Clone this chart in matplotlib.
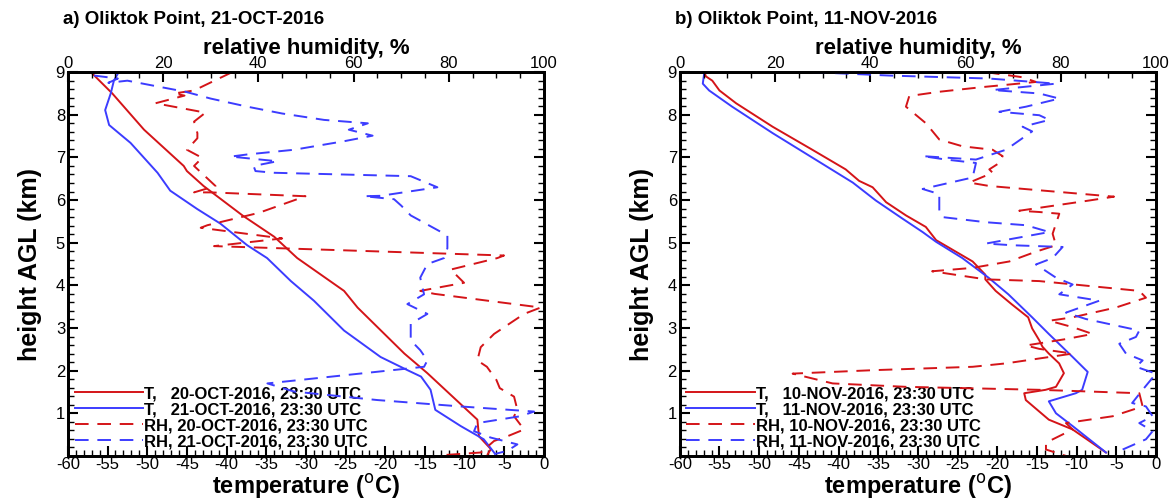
import matplotlib
matplotlib.use("Agg")
import matplotlib.pyplot as plt
from matplotlib.ticker import MultipleLocator

plt.rcParams['font.family'] = ['Liberation Sans', 'DejaVu Sans']
plt.rcParams['axes.unicode_minus'] = False

# ---- panel a: 20/21-OCT-2016 ----
a_t1_temp = [-57.1, -54.4, -50.4, -45.4, -45.0, -42.9, -38.0, -34.0, -31.1, -25.2,
             -23.5, -17.6, -14.7, -8.4, -8.2, -6.7, -7.1]
a_t1_h = [9.0, 8.5, 7.65, 6.8, 6.68, 6.33, 5.64, 5.14, 4.64, 3.87,
          3.48, 2.40, 1.94, 0.85, 0.46, 0.16, 0.04]
a_t2_temp = [-53.6, -54.2, -54.6, -55.3, -54.8, -52.1, -48.7, -47.1, -43.7, -40.8,
             -37.4, -34.9, -31.9, -29.0, -25.2, -20.6, -17.2, -15.5, -14.3, -13.7,
             -10.5, -7.6, -6.3]
a_t2_h = [9.0, 8.8, 8.5, 8.11, 7.76, 7.34, 6.64, 6.22, 5.79, 5.45,
          4.94, 4.64, 4.10, 3.64, 2.94, 2.32, 2.01, 1.86, 1.55, 1.08,
          0.70, 0.39, 0.08]
a_rh1 = [34.5, 26.5, 22.3, 24.5, 18.4, 28.9, 26.5, 27.2, 27.2, 25.0,
         28.2, 26.5, 31.0, 26.5, 30.0, 49.9, 40.1, 29.3, 27.9, 45.0,
         30.7, 91.6, 90.2, 80.4, 83.2, 74.0, 77.0, 99.3, 95.8, 89.5,
         86.7, 86.0, 88.0, 90.0, 90.7, 93.7, 94.4, 93.7, 95.8, 92.3,
         89.5, 86.7, 79.0]
a_rh1_h = [9.0, 8.57, 8.5, 8.45, 8.27, 8.05, 7.84, 7.57, 7.45, 7.18,
           6.99, 6.8, 6.33, 6.18, 6.18, 6.09, 5.7, 5.41, 5.35, 5.1,
           4.92, 4.7, 4.64, 4.37, 4.06, 3.87, 3.8, 3.48, 3.33, 2.86,
           2.55, 2.24, 2.09, 1.78, 1.59, 1.39, 1.08, 0.93, 0.62, 0.46,
           0.35, 0.08, 0.02]
a_rh2 = [5.5, 10.5, 8.5, 12.5, 19.5, 24.7, 30.0, 37.7, 45.0, 53.8,
         63.0, 59.0, 64.0, 58.0, 47.5, 37.7, 34.2, 44.0, 39.0, 39.4,
         43.3, 72.0, 77.6, 65.7, 62.2, 68.5, 70.0, 72.0, 79.7, 79.7,
         79.0, 75.5, 74.0, 74.8, 71.3, 75.5, 72.0, 72.0, 74.0, 75.5,
         74.8, 41.9, 47.5, 65.0, 82.5, 97.9, 95.0, 86.0, 85.3, 88.8,
         94.4, 92.3, 89.5]
a_rh2_h = [8.92, 8.85, 8.75, 8.8, 8.65, 8.54, 8.38, 8.19, 8.03, 7.88,
           7.8, 7.65, 7.51, 7.38, 7.18, 7.07, 7.02, 6.91, 6.8, 6.68,
           6.64, 6.56, 6.3, 6.1, 6.09, 6.02, 5.87, 5.64, 5.17, 4.87,
           4.64, 4.5, 4.18, 3.79, 3.56, 3.33, 3.1, 2.71, 2.48, 2.24,
           2.09, 1.70, 1.51, 1.31, 1.16, 1.04, 0.93, 0.77, 0.58, 0.43,
           0.27, 0.12, 0.04]

# ---- panel b: 10/11-NOV-2016 ----
b_t1_temp = [-56.9, -56.7, -55.9, -55.0, -52.9, -48.3, -43.3, -39.1, -37.4, -35.7,
             -34.0, -31.5, -29.0, -27.7, -23.1, -21.5, -21.5, -20.2, -18.2, -16.1,
             -15.6, -14.7, -14.3, -13.5, -12.2, -11.6, -12.6, -13.9, -16.6, -16.4,
             -13.5, -10.5, -6.3]
b_t1_h = [9.0, 8.9, 8.8, 8.57, 8.27, 7.72, 7.18, 6.72, 6.45, 6.3,
          5.95, 5.64, 5.37, 5.06, 4.56, 4.25, 4.14, 3.87, 3.56, 3.25,
          2.99, 2.71, 2.56, 2.40, 2.17, 1.94, 1.62, 1.55, 1.47, 1.31,
          0.85, 0.62, 0.08]
b_t2_temp = [-56.9, -57.1, -56.3, -53.4, -48.3, -42.9, -38.2, -35.3, -31.9, -29.4,
             -27.7, -24.4, -21.1, -18.6, -15.6, -13.5, -10.5, -8.6, -9.3, -10.1,
             -13.5, -12.6, -10.5, -6.3]
b_t2_h = [9.0, 8.73, 8.57, 8.19, 7.57, 6.95, 6.41, 5.99, 5.56, 5.25,
          5.02, 4.64, 4.18, 3.79, 3.25, 2.86, 2.32, 1.97, 1.55, 1.47,
          1.28, 1.0, 0.70, 0.08]
b_rh1 = [64.3, 72.0, 74.8, 63.6, 54.5, 48.2, 47.5, 51.7, 54.5, 59.4,
         65.7, 67.8, 67.1, 65.0, 65.7, 60.8, 65.0, 91.2, 86.0, 76.2,
         71.3, 75.5, 79.7, 78.3, 79.0, 74.8, 69.2, 61.5, 53.0, 64.3,
         75.5, 96.5, 97.9, 91.6, 82.5, 77.6, 82.5, 86.7, 81.1, 72.7,
         75.5, 82.5, 68.5, 61.5, 40.5, 23.7, 32.1, 47.5, 75.5, 96.5,
         97.2, 90.9, 81.1, 82.5, 76.9, 76.9, 81.1]
b_rh1_h = [9.0, 8.88, 8.77, 8.65, 8.54, 8.44, 8.19, 7.8, 7.42, 7.26,
           7.18, 7.03, 6.87, 6.72, 6.64, 6.41, 6.33, 6.08, 5.99, 5.83,
           5.75, 5.72, 5.68, 5.21, 4.94, 4.79, 4.56, 4.41, 4.33, 4.14,
           4.10, 3.87, 3.71, 3.48, 3.25, 3.17, 3.02, 2.86, 2.74, 2.59,
           2.51, 2.40, 2.17, 2.09, 2.01, 1.93, 1.70, 1.62, 1.55, 1.47,
           1.16, 0.93, 0.77, 0.62, 0.31, 0.15, 0.0]
b_rh2 = [27.9, 44.0, 65.0, 79.0, 65.7, 75.5, 79.7, 72.7, 67.1, 75.5,
         77.6, 72.0, 74.0, 68.5, 62.2, 51.0, 55.9, 62.2, 61.5, 51.0,
         54.5, 54.5, 55.2, 64.3, 72.7, 77.6, 64.3, 69.9, 80.4, 78.3,
         74.8, 79.0, 82.5, 79.7, 88.1, 81.1, 85.3, 96.5, 95.8, 92.3,
         93.7, 97.2, 95.8, 100.0, 97.2, 95.0, 97.9, 99.3, 96.5, 99.3,
         97.9, 91.6]
b_rh2_h = [9.0, 8.92, 8.85, 8.73, 8.58, 8.5, 8.38, 8.19, 8.07, 7.99,
           7.88, 7.72, 7.61, 7.18, 6.95, 7.03, 6.95, 6.87, 6.53, 6.26,
           6.14, 5.72, 5.6, 5.48, 5.41, 5.25, 4.98, 4.94, 4.9, 4.64,
           4.49, 4.18, 4.02, 3.79, 3.64, 3.36, 3.21, 2.94, 2.79, 2.63,
           2.40, 2.24, 2.09, 1.93, 1.55, 1.24, 1.16, 0.93, 0.77, 0.58,
           0.39, 0.08]

RED = '#d41418'
BLUE = '#3c3cff'
DASH = (7, 4.5)


def draw_panel(fig, rect, title, labels, t1, t2, rh1, rh2):
    ax = fig.add_axes(rect)
    ax2 = ax.twiny()
    l1, = ax.plot(t1[0], t1[1], color=RED, lw=1.4)
    l2, = ax.plot(t2[0], t2[1], color=BLUE, lw=1.4)
    l3, = ax2.plot(rh1[0], rh1[1], color=RED, lw=1.4, dashes=DASH)
    l4, = ax2.plot(rh2[0], rh2[1], color=BLUE, lw=1.4, dashes=DASH)

    ax.set_xlim(-60, 0)
    ax.set_ylim(0, 9)
    ax2.set_xlim(0, 100)
    ax.xaxis.set_major_locator(MultipleLocator(5))
    ax.xaxis.set_minor_locator(MultipleLocator(1))
    ax.yaxis.set_major_locator(MultipleLocator(1))
    ax.yaxis.set_minor_locator(MultipleLocator(0.2))
    ax2.xaxis.set_major_locator(MultipleLocator(20))
    ax2.xaxis.set_minor_locator(MultipleLocator(5))
    ax.set_yticks(range(1, 10))

    for a in (ax, ax2):
        a.tick_params(which='major', direction='in', length=7, width=1.5,
                      labelsize=12, pad=2)
        a.tick_params(which='minor', direction='in', length=4, width=1)
        for s in a.spines.values():
            s.set_linewidth(2)
    ax.tick_params(axis='y', which='both', right=True, labelright=False)
    ax.tick_params(axis='x', pad=1)
    ax2.tick_params(axis='x', pad=0.5)

    ax.set_xlabel('temperature ($^{\\rm o}$C)', fontsize=17, fontweight='bold',
                  labelpad=0)
    ax.set_ylabel('height AGL (km)', fontsize=18, fontweight='bold', labelpad=10)
    ax2.set_xlabel('relative humidity, %', fontsize=16, fontweight='bold',
                   labelpad=2)
    ax.text(-0.01, 1.125, title, transform=ax.transAxes, fontsize=13.5,
            fontweight='bold', ha='left', va='baseline')

    ax.legend([l1, l2, l3, l4], labels, loc='lower left', frameon=False,
              handlelength=4.1, handletextpad=0.05, labelspacing=0.06,
              borderaxespad=0.2, borderpad=0.2,
              prop={'weight': 'bold', 'size': 12})
    return ax


fig = plt.figure(figsize=(11.7, 5.01), dpi=100)

draw_panel(fig, [0.058, 0.09, 0.407, 0.766], 'a) Oliktok Point, 21-OCT-2016',
           ['T,   20-OCT-2016, 23:30 UTC', 'T,   21-OCT-2016, 23:30 UTC',
            'RH, 20-OCT-2016, 23:30 UTC', 'RH, 21-OCT-2016, 23:30 UTC'],
           (a_t1_temp, a_t1_h), (a_t2_temp, a_t2_h),
           (a_rh1, a_rh1_h), (a_rh2, a_rh2_h))

draw_panel(fig, [0.581, 0.09, 0.407, 0.766], 'b) Oliktok Point, 11-NOV-2016',
           ['T,   10-NOV-2016, 23:30 UTC', 'T,   11-NOV-2016, 23:30 UTC',
            'RH, 10-NOV-2016, 23:30 UTC', 'RH, 11-NOV-2016, 23:30 UTC'],
           (b_t1_temp, b_t1_h), (b_t2_temp, b_t2_h),
           (b_rh1, b_rh1_h), (b_rh2, b_rh2_h))

fig.savefig('out.png', dpi=100)
